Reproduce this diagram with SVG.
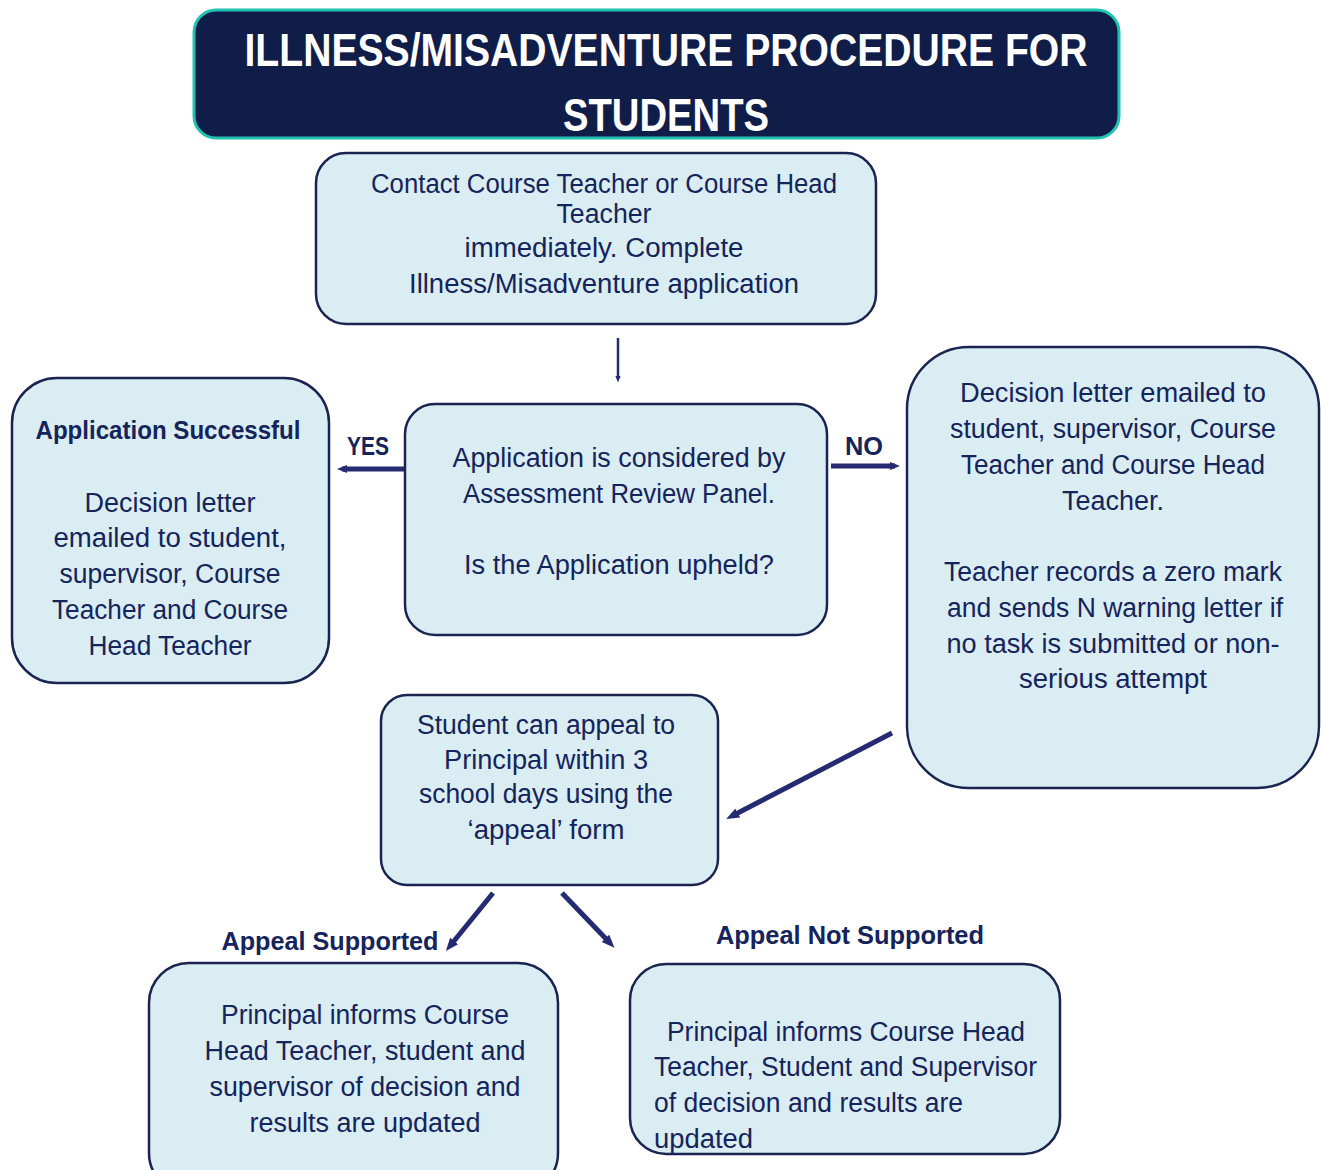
<svg xmlns="http://www.w3.org/2000/svg" width="1323" height="1170" viewBox="0 0 1323 1170">
<defs>
<style>
.box{fill:#daedf3;stroke:#1b2450;stroke-width:2.5}
.t{font-family:"Liberation Sans",Arial,sans-serif;font-size:27px;fill:#15245a;text-anchor:middle}
.tl{font-family:"Liberation Sans",Arial,sans-serif;font-size:27px;fill:#15245a;text-anchor:start}
.b{font-family:"Liberation Sans",Arial,sans-serif;font-size:25px;font-weight:bold;fill:#15245a;text-anchor:middle}
.title{font-family:"Liberation Sans",Arial,sans-serif;font-size:46px;font-weight:bold;fill:#ffffff;text-anchor:middle}
.arr{stroke:#262a70;fill:none;stroke-linecap:butt}
</style>
<marker id="ah" viewBox="0 0 10 10" refX="5" refY="5" markerUnits="userSpaceOnUse" markerWidth="13" markerHeight="13" orient="auto">
<path d="M0,1 L10,5 L0,9 Z" fill="#262a70"/>
</marker>
<marker id="ahm" viewBox="0 0 10 10" refX="5" refY="5" markerUnits="userSpaceOnUse" markerWidth="10" markerHeight="10" orient="auto">
<path d="M0,1 L10,5 L0,9 Z" fill="#262a70"/>
</marker>
<marker id="ahs" viewBox="0 0 10 10" refX="5" refY="5" markerUnits="userSpaceOnUse" markerWidth="7" markerHeight="7" orient="auto">
<path d="M0,1 L10,5 L0,9 Z" fill="#262a70"/>
</marker>
</defs>

<g id="title">
<rect x="194" y="10" width="925" height="128" rx="22" fill="#101d48" stroke="#22c2b2" stroke-width="3"/>
<text class="title" x="666" y="66" textLength="843" lengthAdjust="spacingAndGlyphs">ILLNESS/MISADVENTURE PROCEDURE FOR</text>
<text class="title" x="666" y="131" textLength="206" lengthAdjust="spacingAndGlyphs">STUDENTS</text>
</g>

<g id="contact">
<rect class="box" x="316" y="153" width="560" height="171" rx="30"/>
<text class="t" x="604" y="193" textLength="466" lengthAdjust="spacingAndGlyphs">Contact Course Teacher or Course Head</text>
<text class="t" x="604" y="223" textLength="95" lengthAdjust="spacingAndGlyphs">Teacher</text>
<text class="t" x="604" y="257" textLength="279" lengthAdjust="spacingAndGlyphs">immediately. Complete</text>
<text class="t" x="604" y="293" textLength="390" lengthAdjust="spacingAndGlyphs">Illness/Misadventure application</text>
</g>

<g id="panel">
<rect class="box" x="405" y="404" width="422" height="231" rx="30"/>
<text class="t" x="619" y="467" textLength="333" lengthAdjust="spacingAndGlyphs">Application is considered by</text>
<text class="t" x="619" y="503" textLength="312" lengthAdjust="spacingAndGlyphs">Assessment Review Panel.</text>
<text class="t" x="619" y="574" textLength="310" lengthAdjust="spacingAndGlyphs">Is the Application upheld?</text>
</g>

<g id="successful">
<rect class="box" x="12" y="378" width="317" height="305" rx="45"/>
<text class="b" x="168" y="439" textLength="265" lengthAdjust="spacingAndGlyphs">Application Successful</text>
<text class="t" x="170" y="512" textLength="171" lengthAdjust="spacingAndGlyphs">Decision letter</text>
<text class="t" x="170" y="547" textLength="233" lengthAdjust="spacingAndGlyphs">emailed to student,</text>
<text class="t" x="170" y="583" textLength="221" lengthAdjust="spacingAndGlyphs">supervisor, Course</text>
<text class="t" x="170" y="619" textLength="236" lengthAdjust="spacingAndGlyphs">Teacher and Course</text>
<text class="t" x="170" y="655" textLength="163" lengthAdjust="spacingAndGlyphs">Head Teacher</text>
</g>

<g id="unsuccessful">
<rect class="box" x="907" y="347" width="412" height="441" rx="62"/>
<text class="t" x="1113" y="402" textLength="306" lengthAdjust="spacingAndGlyphs">Decision letter emailed to</text>
<text class="t" x="1113" y="438" textLength="326" lengthAdjust="spacingAndGlyphs">student, supervisor, Course</text>
<text class="t" x="1113" y="474" textLength="304" lengthAdjust="spacingAndGlyphs">Teacher and Course Head</text>
<text class="t" x="1113" y="510" textLength="102" lengthAdjust="spacingAndGlyphs">Teacher.</text>
<text class="t" x="1113" y="581" textLength="338" lengthAdjust="spacingAndGlyphs">Teacher records a zero mark</text>
<text class="t" x="1115" y="617" textLength="336" lengthAdjust="spacingAndGlyphs">and sends N warning letter if</text>
<text class="t" x="1113" y="653" textLength="333" lengthAdjust="spacingAndGlyphs">no task is submitted or non-</text>
<text class="t" x="1113" y="688" textLength="188" lengthAdjust="spacingAndGlyphs">serious attempt</text>
</g>

<g id="appeal">
<rect class="box" x="381" y="695" width="337" height="190" rx="26"/>
<text class="t" x="546" y="734" textLength="258" lengthAdjust="spacingAndGlyphs">Student can appeal to</text>
<text class="t" x="546" y="769" textLength="204" lengthAdjust="spacingAndGlyphs">Principal within 3</text>
<text class="t" x="546" y="803" textLength="254" lengthAdjust="spacingAndGlyphs">school days using the</text>
<text class="t" x="546" y="839" textLength="157" lengthAdjust="spacingAndGlyphs">‘appeal’ form</text>
</g>

<g id="supported">
<rect class="box" x="149" y="963" width="409" height="230" rx="40"/>
<text class="t" x="365" y="1024" textLength="288" lengthAdjust="spacingAndGlyphs">Principal informs Course</text>
<text class="t" x="365" y="1060" textLength="321" lengthAdjust="spacingAndGlyphs">Head Teacher, student and</text>
<text class="t" x="365" y="1096" textLength="311" lengthAdjust="spacingAndGlyphs">supervisor of decision and</text>
<text class="t" x="365" y="1132" textLength="231" lengthAdjust="spacingAndGlyphs">results are updated</text>
</g>

<g id="not-supported">
<rect class="box" x="630" y="964" width="430" height="190" rx="36"/>
<text class="tl" x="667" y="1041" textLength="358" lengthAdjust="spacingAndGlyphs">Principal informs Course Head</text>
<text class="tl" x="654" y="1076" textLength="383" lengthAdjust="spacingAndGlyphs">Teacher, Student and Supervisor</text>
<text class="tl" x="654" y="1112" textLength="309" lengthAdjust="spacingAndGlyphs">of decision and results are</text>
<text class="tl" x="654" y="1148" textLength="99" lengthAdjust="spacingAndGlyphs">updated</text>
</g>

<g id="connectors">
<line class="arr" x1="618" y1="338" x2="618" y2="379" stroke-width="2.5" marker-end="url(#ahs)"/>
<line class="arr" x1="404" y1="469" x2="342" y2="469" stroke-width="5" marker-end="url(#ahm)"/>
<line class="arr" x1="831" y1="466" x2="895" y2="466" stroke-width="5" marker-end="url(#ahm)"/>
<line class="arr" x1="892" y1="733" x2="732" y2="816" stroke-width="5" marker-end="url(#ah)"/>
<line class="arr" x1="493" y1="893" x2="450" y2="946" stroke-width="5" marker-end="url(#ah)"/>
<line class="arr" x1="562" y1="893" x2="610" y2="943" stroke-width="5" marker-end="url(#ah)"/>
<text class="b" x="368" y="455" textLength="42" lengthAdjust="spacingAndGlyphs">YES</text>
<text class="b" x="864" y="455" textLength="38" lengthAdjust="spacingAndGlyphs">NO</text>
<text class="b" x="330" y="950" textLength="217" lengthAdjust="spacingAndGlyphs">Appeal Supported</text>
<text class="b" x="850" y="944" textLength="268" lengthAdjust="spacingAndGlyphs">Appeal Not Supported</text>
</g>
</svg>
